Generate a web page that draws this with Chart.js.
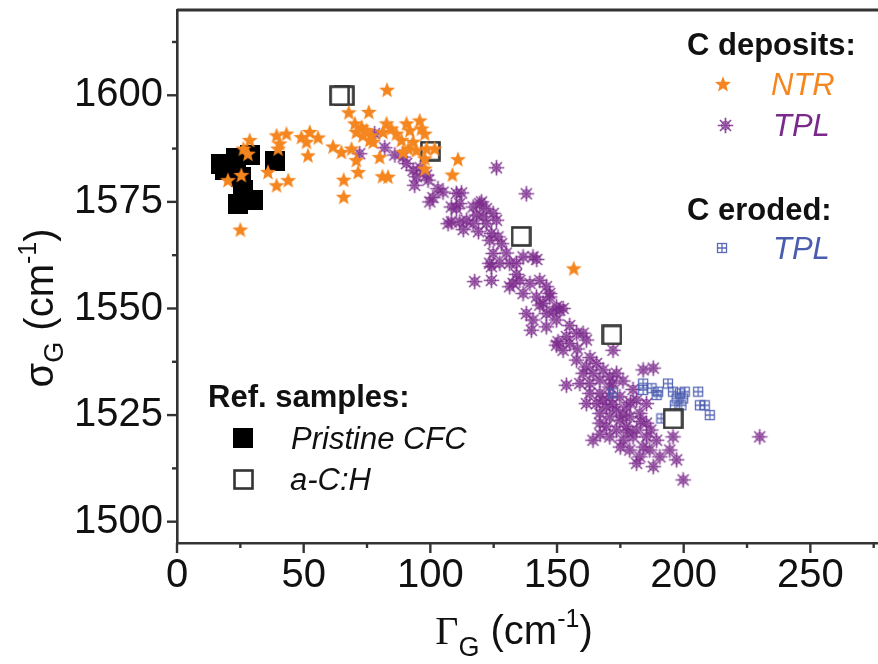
<!DOCTYPE html>
<html><head><meta charset="utf-8">
<script src="https://cdn.jsdelivr.net/npm/chart.js@4.4.1/dist/chart.umd.min.js"></script>
<style>html,body{margin:0;padding:0;background:#fff;}#c{display:block;}</style>
</head><body>
<canvas id="c" width="878" height="664"></canvas>
<script>
// ---------------- data ----------------
const seriesNames = ["NTR", "TPL", "TPL (eroded)", "Pristine CFC", "a-C:H"];

const ntrX = [82.9,67.8,75.7,70.2,72.9,74.8,70.8,76.7,73.4,77.4,82.7,84.6,81.3,86.6,90.6,91.9,95.8,96.5,97.8,88.6,93.2,91.3,94.5,98.5,101.7,97.8,97.8,110.9,108.7,156.6,61.6,64.9,68.9,70.8,71.5,65.8,65.8,80.0,81.1,83.3,76.1,89.2,39.3,43.2,40.5,39.9,49.1,52.4,55.7,51.1,51.7,39.3,43.9,28.7,26.2,28.0,25.4,20.1,25.0,35.9];
const ntrY = [1601.3,1596.0,1596.1,1593.4,1592.6,1591.8,1591.4,1590.6,1590.6,1589.1,1593.4,1592.2,1591.4,1591.0,1593.4,1591.8,1594.1,1592.2,1591.0,1589.5,1589.1,1587.5,1587.1,1587.5,1587.5,1585.2,1582.8,1585.0,1581.4,1559.4,1588.0,1586.7,1587.5,1584.8,1582.0,1580.2,1576.2,1585.5,1581.0,1580.9,1589.5,1586.7,1590.6,1591.0,1588.7,1587.5,1590.2,1591.4,1590.1,1589.1,1585.9,1578.9,1580.1,1589.5,1587.5,1586.3,1581.3,1580.1,1568.5,1582.0];

const tplX = [72.1,78.0,82.0,89.3,90.6,93.2,94.5,98.5,93.8,99.1,103.0,99.8,105.0,110.3,112.3,111.6,108.3,126.1,137.9,
110.3,108.3,111.6,116.9,119.5,122.1,118.2,120.8,124.8,126.1,114.3,116.9,122.1,120.2,107.0,
124.1,126.7,128.1,123.4,124.8,127.4,131.3,134.0,136.6,140.5,123.4,142.0,124.1,117.5,124.1,
131.3,135.3,139.3,143.2,145.8,136.6,141.9,144.5,147.1,149.8,137.9,140.5,145.8,149.8,132.7,147.1,152.4,143.2,148.4,151.1,
139.9,145.8,150.4,153.7,155.0,157.7,160.3,161.6,152.4,149.8,172.1,
157.7,161.6,165.6,160.3,164.2,168.2,170.8,173.5,159.0,162.9,166.9,170.8,153.7,162.9,166.9,170.8,174.8,165.6,169.5,173.5,177.4,166.9,170.8,174.8,178.7,182.7,169.5,173.5,177.4,181.4,185.3,164.2,170.8,176.1,180.0,185.3,189.3,178.7,182.7,186.6,190.6,194.5,197.2,188.0,181.4,199.8,184.0,188.0,185.3,181.4,195.8,166.9,161.6,230.0,
168,172,176,179,183,175,172,167,178,184,187,180,176,163,158,155,134,130,119,113,101,96,86];
const tplY = [1586.3,1591.0,1587.7,1585.5,1584.0,1582.4,1580.9,1581.3,1578.9,1580.1,1578.1,1575.0,1577.3,1577.0,1577.1,1574.6,1573.8,1583.0,1576.9,
1573.4,1570.3,1570.3,1573.8,1574.6,1573.4,1571.9,1571.5,1572.3,1570.7,1570.7,1569.9,1569.9,1575.0,1569.9,
1567.6,1566.8,1565.2,1566.0,1562.9,1560.6,1560.6,1560.6,1562.1,1562.1,1560.6,1561.5,1559.8,1556.3,1556.6,
1555.1,1556.6,1555.9,1556.6,1555.1,1553.5,1552.7,1551.2,1552.7,1550.4,1548.8,1547.3,1548.8,1547.3,1555.9,1553.5,1550.0,1550.8,1549.2,1549.6,
1544.9,1545.7,1542.2,1543.4,1541.8,1544.2,1544.2,1542.6,1540.2,1541.4,1540.2,
1537.9,1536.3,1537.1,1534.8,1534.8,1535.6,1534.0,1534.8,1532.4,1532.4,1533.2,1531.6,1532.0,1530.1,1530.1,1529.3,1529.3,1527.7,1526.9,1526.2,1526.9,1525.4,1524.6,1523.8,1524.6,1525.4,1522.3,1521.5,1522.3,1521.5,1523.1,1519.1,1519.9,1519.1,1519.9,1519.9,1519.1,1516.8,1515.2,1516.8,1515.2,1516.8,1514.5,1512.9,1513.7,1509.8,1535.6,1536.0,1527.7,1528.5,1519.9,1523.1,1527.7,1519.9,
1528.5,1527.5,1525,1528,1523.5,1517.5,1532.5,1520.5,1521,1517.5,1521.5,1531,1533,1538.5,1540.5,1546,1558,1563,1568,1568.5,1576,1583,1586];

const erodedX = [184.0,184.0,187.3,189.9,189.3,193.8,195.8,198.5,200.4,197.2,199.8,199.1,196.5,205.7,206.4,208.3,210.3,172.1,191.2];
const erodedY = [1532.4,1530.9,1531.3,1530.5,1529.7,1532.4,1530.5,1530.1,1530.5,1528.9,1528.9,1527.3,1527.3,1530.5,1527.3,1527.3,1525.0,1530.1,1524.2];

const pristineX = [17.5,23.4,28.7,25.4,24.1,30.0,26.1,18.8,38.8];
const pristineY = [1584.0,1585.2,1585.9,1580.9,1574.6,1575.4,1577.7,1582.4,1584.6];

const achX = [66.0,64.2,100.0,135.8,171.7,195.8];
const achY = [1599.9,1599.9,1586.9,1566.9,1543.8,1524.1];

const xTickValues = [0,25,50,75,100,125,150,175,200,225,250,275];
const xTickLabels = ["0","50","100","150","200","250"];
const yTickValues = [1500,1512.5,1525,1537.5,1550,1562.5,1575,1587.5,1600,1612.5];
const yTickLabels = ["1500","1525","1550","1575","1600"];

// ---------------- marker images ----------------
const ORANGE = '#f5861f', PURPLE = '#7b2a8c', BLUE = '#4a5cb0';
function mk(w, h, fn){ const c=document.createElement('canvas'); c.width=w; c.height=h; fn(c.getContext('2d'), w, h); return c; }
const starImg = mk(18,18,(g,w,h)=>{ g.fillStyle=ORANGE; g.beginPath(); const R=8.4, r=3.6;
  for(let i=0;i<10;i++){ const a=-Math.PI/2+i*Math.PI/5; const rr=i%2?r:R; g.lineTo(w/2+rr*Math.cos(a), h/2+0.6+rr*Math.sin(a)); }
  g.closePath(); g.fill(); });
const astImg = mk(19,19,(g,w,h)=>{ g.strokeStyle=PURPLE; g.globalAlpha=0.85; g.lineWidth=1.7; const R=7.8;
  g.beginPath(); for(let i=0;i<4;i++){ const a=i*Math.PI/4; g.moveTo(w/2-R*Math.cos(a),h/2-R*Math.sin(a)); g.lineTo(w/2+R*Math.cos(a),h/2+R*Math.sin(a)); } g.stroke();
  g.lineWidth=1.2; g.beginPath(); g.arc(w/2,h/2,3.8,0,Math.PI*2); g.stroke(); });
const gridImg = mk(12,12,(g,w,h)=>{ g.strokeStyle=BLUE; g.lineWidth=1.3; g.globalAlpha=0.9; g.strokeRect(1.5,1.5,9,9);
  g.beginPath(); g.moveTo(6,1.5); g.lineTo(6,10.5); g.moveTo(1.5,6); g.lineTo(10.5,6); g.stroke(); });
const blackImg = mk(20,20,(g)=>{ g.fillStyle='#000'; g.fillRect(0,0,20,20); });
const openImg = mk(21,21,(g)=>{ g.fillStyle='#fff'; g.fillRect(1,1,19,19); g.strokeStyle='#333'; g.lineWidth=2.6; g.strokeRect(1.5,1.5,18,18); });

function pts(xs, ys){ return xs.map((x,i)=>({x:x, y:ys[i]})); }

// ---------------- plugin: axes frame, ticks, titles, legend ----------------
const SANS = '"Liberation Sans", Arial, sans-serif';
function rich(ctx, parts, x, y){
  let w=0; parts.forEach(p=>{ ctx.font=p.f; p.w=ctx.measureText(p.t).width; w+=p.w; });
  let cx = x - w/2;
  parts.forEach(p=>{ ctx.font=p.f; ctx.fillText(p.t, cx, y + (p.dy||0)); cx += p.w; });
}
function noPad(s){ s.paddingTop=0; s.paddingBottom=0; s.paddingLeft=0; s.paddingRight=0; }
const decor = {
  id:'decor',
  afterDraw(chart){
    const ctx = chart.ctx, a = chart.chartArea, xs = chart.scales.x, ys = chart.scales.y;
    ctx.save();
    ctx.strokeStyle='#333';
    ctx.lineWidth=3; ctx.beginPath(); ctx.moveTo(a.left, a.top); ctx.lineTo(a.right, a.top); ctx.stroke();
    ctx.lineWidth=2.4;
    xTickValues.forEach(v=>{ const p = xs.getPixelForValue(v); const L = (v%50===0)?10:5;
      ctx.beginPath(); ctx.moveTo(p, a.bottom); ctx.lineTo(p, a.bottom+L); ctx.stroke(); });
    yTickValues.forEach(v=>{ const p = ys.getPixelForValue(v); const L = (v%25===0)?10:5;
      ctx.beginPath(); ctx.moveTo(a.left, p); ctx.lineTo(a.left-L, p); ctx.stroke(); });
    // axis titles
    ctx.fillStyle='#111'; ctx.textBaseline='alphabetic';
    ctx.save(); ctx.translate(53, 308); ctx.rotate(-Math.PI/2);
    rich(ctx, [{t:'σ', f:'40px '+SANS},{t:'G', f:'27px '+SANS, dy:10},{t:' (cm', f:'40px '+SANS},{t:'-1', f:'25px '+SANS, dy:-17},{t:')', f:'40px '+SANS}], 0, 0);
    ctx.restore();
    rich(ctx, [{t:'Γ', f:'40px "Liberation Serif", serif'},{t:'G', f:'27px '+SANS, dy:12},{t:' (cm', f:'40px '+SANS},{t:'-1', f:'25px '+SANS, dy:-17},{t:')', f:'40px '+SANS}], 514, 644);
    // legends
    function img(im, x, y){ ctx.drawImage(im, Math.round(x-im.width/2), Math.round(y-im.height/2)); }
    ctx.textAlign='left';
    ctx.fillStyle='#111'; ctx.font='bold 31px '+SANS;
    ctx.fillText('C deposits:', 687, 55);
    ctx.fillText('C eroded:', 687, 220);
    ctx.fillText('Ref. samples:', 208, 407);
    ctx.font='italic 31px '+SANS;
    img(starImg, 723, 84); ctx.fillStyle=ORANGE; ctx.fillText('NTR', 771, 95);
    img(astImg, 725, 125); ctx.fillStyle=PURPLE; ctx.fillText('TPL', 773, 136);
    img(gridImg, 722, 248); ctx.fillStyle=BLUE; ctx.fillText('TPL', 773, 259);
    img(blackImg, 243, 438); ctx.fillStyle='#111'; ctx.fillText('Pristine CFC', 291, 449);
    img(openImg, 243, 479); ctx.fillText('a-C:H', 290, 490);
    ctx.restore();
  }
};

new Chart(document.getElementById('c'), {
  type:'scatter',
  data:{ datasets:[
    {label:seriesNames[0], data:pts(ntrX,ntrY), pointStyle:starImg, pointRadius:8},
    {label:seriesNames[4], data:pts(achX,achY), pointStyle:openImg, pointRadius:10},
    {label:seriesNames[3], data:pts(pristineX,pristineY), pointStyle:blackImg, pointRadius:10},
    {label:seriesNames[2], data:pts(erodedX,erodedY), pointStyle:gridImg, pointRadius:6},
    {label:seriesNames[1], data:pts(tplX,tplY), pointStyle:astImg, pointRadius:8}
  ]},
  options:{
    responsive:false, animation:false, devicePixelRatio:1,
    layout:{ autoPadding:false, padding:{ top:10, right:0, left:0, bottom:0 } },
    plugins:{ legend:{display:false}, tooltip:{enabled:false} },
    scales:{
      x:{ type:'linear', min:0, max:276.7,
        afterBuildTicks:s=>{ s.ticks = xTickValues.map(v=>({value:v})); },
        afterFit:s=>{ s.height = 121; noPad(s); },
        grid:{display:false, drawTicks:false},
        border:{display:true, color:'#333', width:2.6},
        ticks:{ autoSkip:false, maxRotation:0, padding:9, color:'#111', font:{family:SANS, size:40},
          callback:(v)=> xTickLabels.includes(String(v)) ? String(v) : '' } },
      y:{ type:'linear', min:1495, max:1620,
        afterBuildTicks:s=>{ s.ticks = yTickValues.map(v=>({value:v})); },
        afterFit:s=>{ s.width = 177; noPad(s); },
        grid:{display:false, drawTicks:false},
        border:{display:true, color:'#333', width:2.6},
        ticks:{ autoSkip:false, padding:14, color:'#111', font:{family:SANS, size:40},
          callback:(v)=> yTickLabels.includes(String(v)) ? String(v) : '' } }
    }
  },
  plugins:[decor]
});
</script>
</body></html>
